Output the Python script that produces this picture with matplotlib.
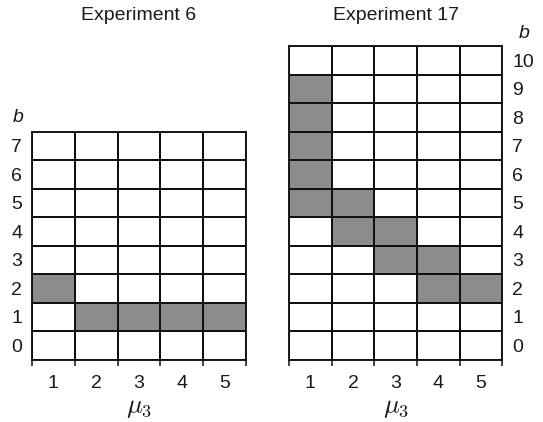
import numpy as np
import matplotlib
matplotlib.use("Agg")
import matplotlib.pyplot as plt
from matplotlib.colors import ListedColormap

plt.rcParams['font.family'] = ['Liberation Sans', 'DejaVu Sans']
plt.rcParams['mathtext.fontset'] = 'cm'

# ---- data ----
mu3_values = [1, 2, 3, 4, 5]
exp6_b_values = list(range(0, 8))
exp17_b_values = list(range(0, 11))

exp6_shaded_mu = [1, 2, 3, 4, 5]
exp6_shaded_b = [2, 1, 1, 1, 1]

exp17_shaded_mu = [1, 1, 1, 1, 1, 2, 2, 3, 3, 4, 4, 5]
exp17_shaded_b = [9, 8, 7, 6, 5, 5, 4, 4, 3, 3, 2, 2]

titles = ["Experiment 6", "Experiment 17"]

FILL = '#8c8c8c'
LINE = '#111111'
TXT = '#1a1a1a'


def grid_matrix(mus, bs, shaded_mu, shaded_b):
    m = np.zeros((len(bs), len(mus)))
    for mu, b in zip(shaded_mu, shaded_b):
        m[bs.index(b), mus.index(mu)] = 1
    return m


fig = plt.figure(figsize=(5.43, 4.22), dpi=100)
W, H = 543, 422

ax1 = fig.add_axes([32 / W, (H - 359.5) / H, 214 / W, 228 / H])
ax2 = fig.add_axes([289 / W, (H - 359.5) / H, 213.5 / W, (359.5 - 46) / H])

cmap = ListedColormap(['white', FILL])

for ax, bs, smu, sb, title, side in [
    (ax1, exp6_b_values, exp6_shaded_mu, exp6_shaded_b, titles[0], 'left'),
    (ax2, exp17_b_values, exp17_shaded_mu, exp17_shaded_b, titles[1], 'right'),
]:
    m = grid_matrix(mu3_values, bs, smu, sb)
    xe = np.arange(len(mu3_values) + 1) + mu3_values[0] - 0.5
    ye = np.arange(len(bs) + 1) + bs[0] - 0.5
    ax.pcolormesh(xe, ye, m, cmap=cmap, vmin=0, vmax=1,
                  edgecolors=LINE, linewidth=1.35)
    ax.set_xlim(xe[0], xe[-1])
    ax.set_ylim(ye[0], ye[-1])
    for s in ax.spines.values():
        s.set_linewidth(1.35)
        s.set_color(LINE)
    ax.set_xticks(mu3_values)
    ax.set_xticklabels([str(v) for v in mu3_values])
    ax.set_xticks(xe, minor=True)
    ax.set_yticks(bs)
    ax.set_yticklabels([str(v) for v in bs])
    ax.tick_params(axis='x', which='major', length=0, pad=11,
                   labelsize=14, labelcolor=TXT)
    ax.tick_params(axis='x', which='minor', length=4, width=1.1,
                   color=LINE, direction='out')
    ax.tick_params(axis='y', which='both', length=0, labelsize=14,
                   labelcolor=TXT, pad=7)
    if side == 'right':
        ax.yaxis.tick_right()
        ax.tick_params(axis='y', which='both', length=0, pad=7)
    ax.set_xlabel(r'$\mu_3$', fontsize=19, color=TXT, labelpad=3)
    # title
    pos = ax.get_position()
    fig.text(pos.x0 + pos.width / 2, 1 - 15 / H, title, ha='center',
             va='center', fontsize=14, color=TXT)

# 'b' axis labels
fig.text(18 / W, 1 - 118 / H, 'b', style='italic', fontsize=14,
         color=TXT, ha='center', va='center')
fig.text(524 / W, 1 - 33 / H, 'b', style='italic', fontsize=14,
         color=TXT, ha='center', va='center')

fig.savefig('out.png', dpi=100)
